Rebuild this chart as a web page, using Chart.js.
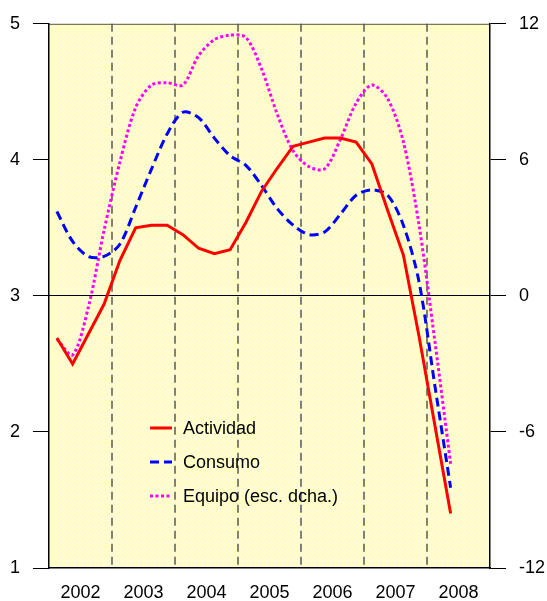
<!DOCTYPE html>
<html>
<head>
<meta charset="utf-8">
<script src="https://cdn.jsdelivr.net/npm/chart.js@4.4.0/dist/chart.umd.min.js"></script>
<style>
    body { margin: 0; background: #ffffff; }
    #wrap { width: 547px; height: 601px; }
</style>
</head>
<body>
<div id="wrap"><canvas id="myChart"></canvas></div>
<script>
// quarterly data, 2002 Q1 .. 2008 Q2
const years = ['2002', '2003', '2004', '2005', '2006', '2007', '2008'];
const actividad = [2.69, 2.50, 2.72, 2.94, 3.26, 3.50, 3.52, 3.52, 3.45, 3.35, 3.31, 3.34,
                   3.54, 3.77, 3.94, 4.10, 4.13, 4.16, 4.16, 4.13, 3.97, 3.63, 3.30, 2.70, 2.05, 1.40];
const consumo = [3.62, 3.40, 3.29, 3.29, 3.38, 3.65, 3.93, 4.19, 4.35, 4.31, 4.16, 4.03,
                 3.96, 3.81, 3.64, 3.52, 3.45, 3.47, 3.60, 3.74, 3.78, 3.74, 3.52, 3.10, 2.34, 1.59];
const equipo = [-1.9, -2.6, -0.5, 2.9, 5.9, 8.3, 9.3, 9.4, 9.3, 10.6, 11.3, 11.5,
                11.4, 10.0, 8.0, 6.4, 5.7, 5.6, 6.9, 8.5, 9.3, 8.7, 6.8, 3.1, -2.0, -7.4];
const seriesNames = ['Actividad', 'Consumo', 'Equipo (esc. dcha.)'];

const FONT = { family: "'Liberation Sans', Arial, sans-serif", size: 18 };

function toPoints(values) {
    return values.map((v, i) => ({ x: i + 0.5, y: v }));
}

function makePattern(ctx) {
    const c = document.createElement('canvas');
    c.width = 4;
    c.height = 4;
    const p = c.getContext('2d');
    p.fillStyle = '#ffffbe';
    p.fillRect(0, 0, 4, 4);
    p.fillStyle = '#ffffff';
    p.fillRect(0, 0, 1, 1);
    p.fillRect(2, 2, 1, 1);
    return ctx.createPattern(c, 'repeat');
}

const backdrop = {
    id: 'backdrop',
    beforeDraw(chart) {
        const { ctx, chartArea: a, scales: { x } } = chart;
        ctx.save();
        ctx.fillStyle = makePattern(ctx);
        ctx.fillRect(a.left, a.top, a.right - a.left, a.bottom - a.top);

        // dashed lines between years
        ctx.strokeStyle = '#404040';
        ctx.lineWidth = 1.3;
        ctx.setLineDash([8, 5]);
        for (let q = 4; q < years.length * 4; q += 4) {
            const px = Math.round(x.getPixelForValue(q));
            ctx.beginPath();
            ctx.moveTo(px, a.top);
            ctx.lineTo(px, a.bottom);
            ctx.stroke();
        }
        ctx.setLineDash([]);
        ctx.strokeStyle = '#555555';
        ctx.lineWidth = 1;
        ctx.beginPath();
        ctx.moveTo(a.left, a.top + 0.5);
        ctx.lineTo(a.right, a.top + 0.5);
        ctx.stroke();
        ctx.restore();
    },
    afterDatasetsDraw(chart) {
        const { ctx, chartArea: a } = chart;
        ctx.save();
        ctx.font = FONT.size + 'px ' + FONT.family;
        ctx.textBaseline = 'middle';
        ctx.fillStyle = '#000000';
        chart.data.datasets.forEach((ds, i) => {
            const y = a.bottom - 140 + i * 34;
            ctx.strokeStyle = ds.borderColor;
            ctx.lineWidth = ds.borderWidth;
            ctx.setLineDash(ds.borderDash || []);
            ctx.beginPath();
            ctx.moveTo(a.left + 101, y);
            ctx.lineTo(a.left + 123, y);
            ctx.stroke();
            ctx.fillText(ds.label, a.left + 134, y + 1);
        });
        ctx.restore();
    }
};

const ctx = document.getElementById('myChart');

new Chart(ctx, {
    type: 'line',
    data: {
        datasets: [
            {
                label: seriesNames[0],
                data: toPoints(actividad),
                borderColor: '#ff0000',
                borderWidth: 3,
                tension: 0,
                yAxisID: 'y'
            },
            {
                label: seriesNames[1],
                data: toPoints(consumo),
                borderColor: '#0000ff',
                borderWidth: 3,
                borderDash: [9, 5],
                tension: 0.3,
                yAxisID: 'y'
            },
            {
                label: seriesNames[2],
                data: toPoints(equipo),
                borderColor: '#ff00ff',
                borderWidth: 3,
                borderDash: [3, 2.5],
                tension: 0.3,
                yAxisID: 'y2'
            }
        ]
    },
    options: {
        responsive: true,
        maintainAspectRatio: false,
        animation: false,
        devicePixelRatio: 1,
        layout: { padding: { top: 19, left: 0, right: 0, bottom: 0 } },
        elements: { point: { radius: 0 } },
        plugins: {
            legend: { display: false },
            tooltip: { enabled: false }
        },
        scales: {
            x: {
                type: 'linear',
                min: 0,
                max: years.length * 4,
                afterBuildTicks: s => { s.ticks = years.map((y, i) => ({ value: i * 4 + 2 })); },
                afterFit: s => { s.height = 33; },
                ticks: {
                    callback: v => years[(v - 2) / 4],
                    autoSkip: false,
                    maxRotation: 0,
                    padding: 6,
                    color: '#000000',
                    font: FONT
                },
                grid: { display: false },
                border: { color: '#000000', width: 1.5 }
            },
            y: {
                position: 'left',
                min: 1,
                max: 5,
                afterFit: s => { s.width = 49; },
                ticks: { stepSize: 1, padding: 13, color: '#000000', font: FONT },
                grid: { drawOnChartArea: false, color: '#000000', tickLength: 16, tickWidth: 1 },
                border: { color: '#000000', width: 1.5 }
            },
            y2: {
                position: 'right',
                min: -12,
                max: 12,
                afterFit: s => { s.width = 57; },
                ticks: { stepSize: 6, padding: 13, color: '#000000', font: FONT },
                grid: {
                    color: c => (c.tick && c.tick.value === 0) ? '#000000' : 'rgba(0,0,0,0)',
                    tickColor: '#000000',
                    tickLength: 16,
                    tickWidth: 1,
                    lineWidth: 1
                },
                border: { color: '#000000', width: 1.5 }
            }
        }
    },
    plugins: [backdrop]
});
</script>
</body>
</html>
